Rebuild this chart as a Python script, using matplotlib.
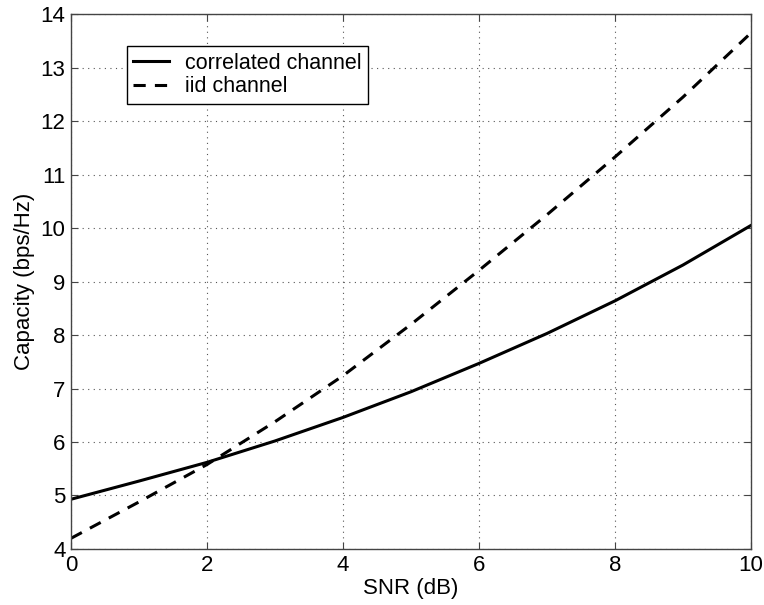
import numpy as np
import matplotlib.pyplot as plt

plt.rcParams['font.family'] = ['Liberation Sans', 'DejaVu Sans']

snr_db = [0, 1, 2, 3, 4, 5, 6, 7, 8, 9, 10]
cap_correlated = [4.93, 5.27, 5.62, 6.02, 6.46, 6.94, 7.47, 8.03, 8.64, 9.31, 10.05]
cap_iid = [4.20, 4.88, 5.58, 6.38, 7.24, 8.20, 9.21, 10.25, 11.33, 12.45, 13.65]

tick_x = [0, 2, 4, 6, 8, 10]
tick_y = [4, 5, 6, 7, 8, 9, 10, 11, 12, 13, 14]

fig = plt.figure(figsize=(7.64, 6.05), dpi=100)
ax = fig.add_axes([0.093, 0.0926, 0.890, 0.884])

ax.plot(snr_db, cap_correlated, color='black', lw=2.2, label='correlated channel')
ax.plot(snr_db, cap_iid, color='black', lw=2.2, ls=(0, (4, 3)), label='iid channel')

ax.set_xlim(0, 10)
ax.set_ylim(4, 14)
ax.set_xticks(tick_x)
ax.set_yticks(tick_y)
ax.tick_params(direction='in', top=True, right=True, labelsize=16, length=5,
               color='#444444', pad=4)
ax.grid(True, ls=(0, (1, 4)), color='#555555', lw=0.8)
for s in ax.spines.values():
    s.set_color('#444444')
    s.set_linewidth(1.0)

ax.set_xlabel('SNR (dB)', fontsize=16, labelpad=2)
ax.set_ylabel('Capacity (bps/Hz)', fontsize=16, labelpad=4)

leg = ax.legend(loc='upper left', bbox_to_anchor=(0.082, 0.94), fontsize=15.5,
                fancybox=False, framealpha=1, edgecolor='black', borderaxespad=0,
                handlelength=1.65, handletextpad=0.75, borderpad=0.3, labelspacing=0.12)
leg.get_frame().set_linewidth(1.0)

fig.savefig('out.png', dpi=100)
